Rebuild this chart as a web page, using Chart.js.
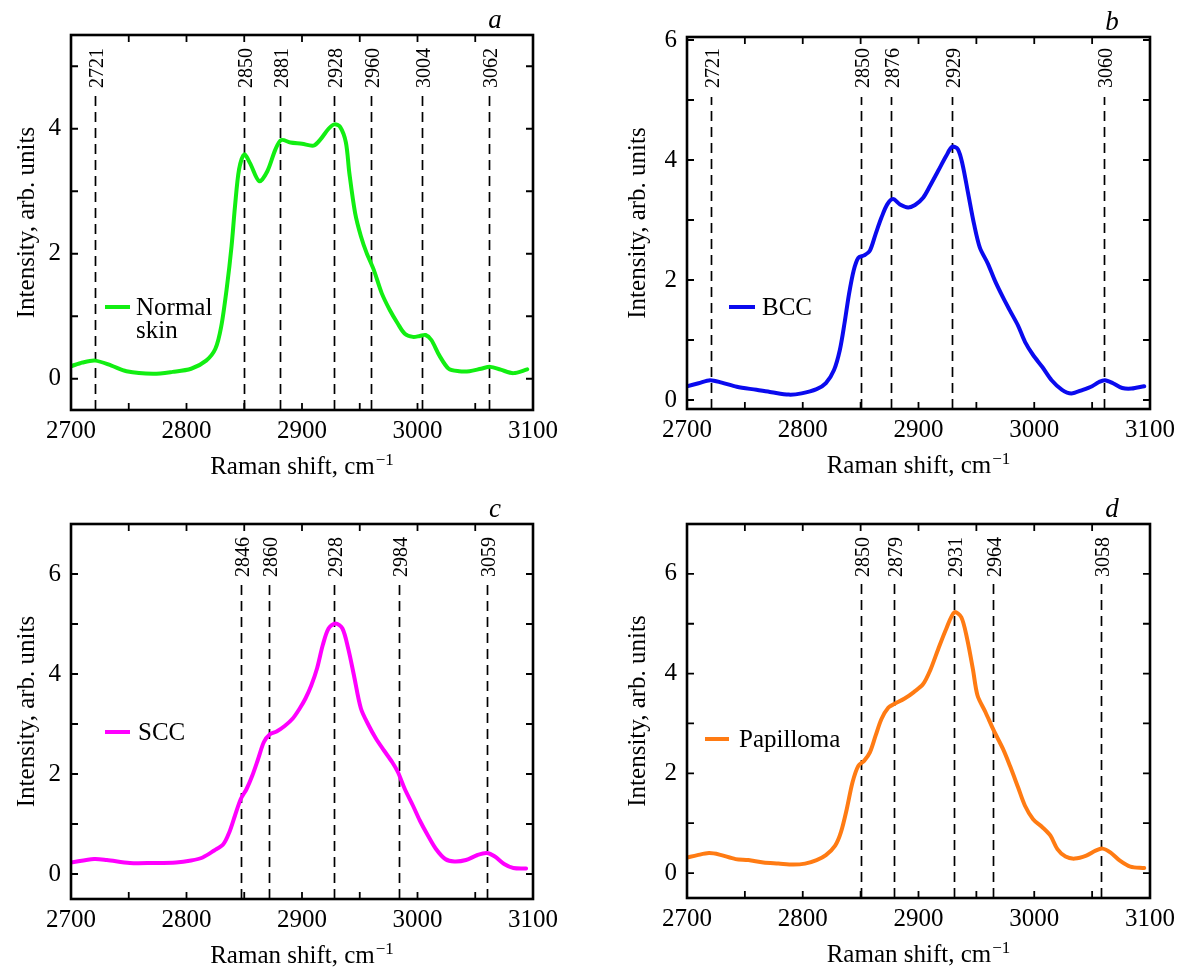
<!DOCTYPE html>
<html>
<head>
<meta charset="utf-8">
<script src="https://cdn.jsdelivr.net/npm/chart.js@4.4.1/dist/chart.umd.min.js"></script>
<style>
  html, body { margin: 0; padding: 0; background: #fff; }
  #wrap { position: relative; width: 1183px; height: 974px; background: #fff; }
  canvas { position: absolute; }
</style>
</head>
<body>
<div id="wrap">
  <canvas id="pa" width="591" height="487" style="left:0;top:0"></canvas>
  <canvas id="pb" width="592" height="487" style="left:591px;top:0"></canvas>
  <canvas id="pc" width="591" height="487" style="left:0;top:487px"></canvas>
  <canvas id="pd" width="592" height="487" style="left:591px;top:487px"></canvas>
</div>
<script>
// ---------------- DATA ----------------
const xTickValues = [2700, 2800, 2900, 3000, 3100];
const xMinorTickValues = [2700, 2750, 2800, 2850, 2900, 2950, 3000, 3050, 3100];

// a: Normal skin
const normalSkinShift = [2700, 2710, 2721, 2735, 2748, 2771, 2788, 2804, 2817, 2825, 2830, 2835, 2839, 2842, 2845.5, 2850, 2855, 2863, 2870, 2877, 2882, 2890, 2900, 2910, 2916, 2923, 2928, 2933, 2938, 2941, 2946, 2951, 2956, 2962, 2969, 2976, 2983, 2989, 2996, 3002, 3007, 3012, 3019, 3027, 3036, 3045, 3055, 3063, 3072, 3083, 3095];
const normalSkinIntensity = [0.20, 0.26, 0.29, 0.21, 0.12, 0.08, 0.11, 0.16, 0.29, 0.48, 0.83, 1.47, 2.12, 2.76, 3.35, 3.59, 3.45, 3.16, 3.32, 3.67, 3.82, 3.78, 3.76, 3.73, 3.83, 4.00, 4.07, 4.03, 3.78, 3.29, 2.65, 2.28, 2.01, 1.75, 1.37, 1.10, 0.88, 0.72, 0.67, 0.685, 0.70, 0.62, 0.37, 0.16, 0.12, 0.12, 0.16, 0.19, 0.145, 0.09, 0.15];
const normalSkinPeaks = [2721, 2850, 2881, 2928, 2960, 3004, 3062];
const normalSkinPeakLabels = ['2721', '2850', '2881', '2928', '2960', '3004', '3062'];
const normalSkinYTicks = [0, 2, 4];
const normalSkinYMinor = [0, 1, 2, 3, 4, 5];

// b: BCC
const bccShift = [2700, 2710, 2720, 2730, 2743, 2760, 2773, 2788, 2799, 2812, 2820, 2827, 2832, 2836, 2840, 2844, 2848, 2853, 2858, 2863, 2868, 2873, 2878, 2884, 2891, 2897, 2904, 2910, 2917, 2924, 2929, 2934, 2938, 2943, 2948, 2953, 2960, 2966, 2973, 2979, 2986, 2992, 2999, 3007, 3015, 3024, 3032, 3042, 3050, 3056, 3061, 3068, 3076, 3084, 3095];
const bccIntensity = [0.23, 0.28, 0.33, 0.29, 0.22, 0.17, 0.13, 0.09, 0.11, 0.18, 0.28, 0.50, 0.83, 1.27, 1.77, 2.16, 2.37, 2.41, 2.49, 2.77, 3.04, 3.26, 3.35, 3.26, 3.21, 3.25, 3.37, 3.57, 3.82, 4.07, 4.22, 4.18, 3.93, 3.43, 2.93, 2.54, 2.27, 1.99, 1.71, 1.49, 1.24, 0.97, 0.75, 0.55, 0.33, 0.17, 0.11, 0.17, 0.23, 0.30, 0.33, 0.28, 0.20, 0.19, 0.23];
const bccPeaks = [2721, 2850, 2876, 2929, 3060];
const bccPeakLabels = ['2721', '2850', '2876', '2929', '3060'];
const bccYTicks = [0, 2, 4, 6];
const bccYMinor = [0, 1, 2, 3, 4, 5, 6];

// c: SCC
const sccShift = [2700, 2720, 2731, 2751, 2771, 2791, 2804, 2814, 2824, 2832, 2837, 2842, 2847, 2852, 2857, 2862, 2867, 2872, 2878, 2885, 2892, 2898, 2903, 2908, 2913, 2918, 2923, 2929, 2935, 2940, 2945, 2951, 2958, 2964, 2971, 2978, 2983, 2989, 2996, 3002, 3009, 3016, 3024, 3032, 3042, 3052, 3060, 3067, 3075, 3083, 3094];
const sccIntensity = [0.23, 0.30, 0.28, 0.22, 0.22, 0.23, 0.27, 0.33, 0.47, 0.60, 0.83, 1.17, 1.50, 1.70, 1.97, 2.30, 2.64, 2.79, 2.85, 2.96, 3.11, 3.31, 3.51, 3.77, 4.11, 4.58, 4.91, 5.01, 4.91, 4.51, 3.97, 3.31, 2.96, 2.71, 2.47, 2.24, 2.04, 1.70, 1.37, 1.07, 0.77, 0.50, 0.30, 0.25, 0.28, 0.38, 0.42, 0.35, 0.20, 0.12, 0.11];
const sccPeaks = [2847, 2871, 2928, 2984, 3060];
const sccPeakLabels = ['2846', '2860', '2928', '2984', '3059'];
const sccYTicks = [0, 2, 4, 6];
const sccYMinor = [0, 1, 2, 3, 4, 5, 6];

// d: Papilloma
const papillomaShift = [2700, 2709, 2719, 2728, 2742, 2753, 2766, 2779, 2792, 2802, 2812, 2820, 2828, 2833, 2838, 2843, 2848, 2853, 2858, 2863, 2868, 2874, 2879, 2888, 2896, 2904, 2910, 2917, 2924, 2931, 2937, 2942, 2947, 2951, 2958, 2965, 2973, 2979, 2986, 2992, 2999, 3007, 3014, 3020, 3027, 3035, 3045, 3053, 3059, 3066, 3074, 3083, 3095];
const papillomaIntensity = [0.31, 0.36, 0.40, 0.37, 0.28, 0.26, 0.21, 0.19, 0.17, 0.19, 0.26, 0.36, 0.55, 0.82, 1.28, 1.82, 2.15, 2.25, 2.42, 2.76, 3.09, 3.32, 3.39, 3.50, 3.63, 3.79, 4.06, 4.49, 4.90, 5.23, 5.13, 4.70, 4.09, 3.56, 3.22, 2.86, 2.49, 2.15, 1.72, 1.35, 1.08, 0.92, 0.75, 0.48, 0.33, 0.29, 0.35, 0.45, 0.49, 0.41, 0.25, 0.13, 0.10];
const papillomaPeaks = [2850, 2879, 2931, 2964, 3058];
const papillomaPeakLabels = ['2850', '2879', '2931', '2964', '3058'];
const papillomaYTicks = [0, 2, 4, 6];
const papillomaYMinor = [0, 1, 2, 3, 4, 5, 6];

const xTitle = 'Raman shift, cm';
const xTitleSup = '\u22121';
const yTitle = 'Intensity, arb. units';

// ---------------- RENDERING ----------------
const SERIF = '"Liberation Serif", "Times New Roman", serif';
const X_AXIS_H = 70;

const panelPlugin = {
  id: 'panel',
  beforeDatasetsDraw(chart) {
    const p = chart.options.plugins.panel;
    const { ctx, chartArea: ca, scales: { x } } = chart;
    ctx.save();
    ctx.strokeStyle = '#000';
    ctx.lineWidth = 1.7;
    ctx.setLineDash([10, 6]);
    p.peaks.forEach(v => {
      const px = Math.round(x.getPixelForValue(v)) + 0.5;
      ctx.beginPath();
      ctx.moveTo(px, ca.bottom);
      ctx.lineTo(px, ca.top + p.lineTop);
      ctx.stroke();
    });
    ctx.restore();
  },
  afterDraw(chart) {
    const p = chart.options.plugins.panel;
    const { ctx, chartArea: ca, scales: { x, y } } = chart;
    ctx.save();
    ctx.fillStyle = '#000';
    ctx.strokeStyle = '#000';
    // peak labels
    ctx.font = '20px ' + SERIF;
    p.peakLabels.forEach((t, i) => {
      const px = Math.round(x.getPixelForValue(p.peaks[i])) + 0.5;
      ctx.save();
      ctx.translate(px, ca.top + p.labelEnd);
      ctx.rotate(-Math.PI / 2);
      ctx.textAlign = 'left';
      ctx.textBaseline = 'alphabetic';
      ctx.fillText(t, 0, 7);
      ctx.restore();
    });
    // minor ticks
    ctx.lineWidth = 1.8;
    const TL = 7;
    xMinorTickValues.forEach(v => {
      const px = x.getPixelForValue(v);
      ctx.beginPath();
      ctx.moveTo(px, ca.bottom); ctx.lineTo(px, ca.bottom - TL);
      ctx.moveTo(px, ca.top); ctx.lineTo(px, ca.top + TL);
      ctx.stroke();
    });
    p.yMinor.forEach(v => {
      const py = y.getPixelForValue(v);
      ctx.beginPath();
      ctx.moveTo(ca.left, py); ctx.lineTo(ca.left + TL, py);
      ctx.moveTo(ca.right, py); ctx.lineTo(ca.right - TL, py);
      ctx.stroke();
    });
    // frame
    ctx.lineWidth = 2.6;
    ctx.strokeRect(ca.left, ca.top, ca.right - ca.left, ca.bottom - ca.top);
    // legend
    ctx.strokeStyle = p.color;
    ctx.lineWidth = 4;
    ctx.beginPath();
    ctx.moveTo(ca.left + p.legend.x0, ca.top + p.legend.y);
    ctx.lineTo(ca.left + p.legend.x1, ca.top + p.legend.y);
    ctx.stroke();
    ctx.font = '25px ' + SERIF;
    ctx.textAlign = 'left';
    ctx.textBaseline = 'alphabetic';
    p.legend.lines.forEach((t, i) => {
      ctx.fillText(t, ca.left + p.legend.tx, ca.top + p.legend.y + 8 + i * 23);
    });
    // x title with superscript
    const cx = (ca.left + ca.right) / 2;
    ctx.font = '25px ' + SERIF;
    const w1 = ctx.measureText(xTitle).width;
    ctx.font = '17px ' + SERIF;
    const w2 = ctx.measureText(xTitleSup).width;
    const start = cx - (w1 + w2 + 1) / 2;
    const base = ca.bottom + 64;
    ctx.font = '25px ' + SERIF;
    ctx.fillText(xTitle, start, base);
    ctx.font = '17px ' + SERIF;
    ctx.fillText(xTitleSup, start + w1 + 1, base - 9);
    // y title
    ctx.save();
    ctx.translate(ca.left + p.yTitleOff, (ca.top + ca.bottom) / 2);
    ctx.rotate(-Math.PI / 2);
    ctx.font = '25px ' + SERIF;
    ctx.textAlign = 'center';
    ctx.fillText(yTitle, 0, 0);
    ctx.restore();
    // panel letter
    ctx.font = 'italic 27px ' + SERIF;
    ctx.textAlign = 'center';
    ctx.fillText(p.letter, ca.right - 38, ca.top - 7);
    ctx.restore();
  }
};

function makePanel(id, cfg) {
  const canvas = document.getElementById(id);
  const W = canvas.width, H = canvas.height, A = cfg.area;
  const tickFont = { family: SERIF, size: 25 };
  new Chart(canvas, {
    type: 'line',
    data: {
      datasets: [{
        data: cfg.xs.map((v, i) => ({ x: v, y: cfg.ys[i] })),
        borderColor: cfg.color,
        borderWidth: 4,
        pointRadius: 0,
        fill: false,
        tension: 0.3,
        borderJoinStyle: 'round',
        borderCapStyle: 'round'
      }]
    },
    options: {
      responsive: false,
      animation: false,
      devicePixelRatio: 1,
      events: [],
      layout: { padding: { left: 0, top: A.top, right: W - A.right, bottom: H - A.bottom - X_AXIS_H } },
      plugins: { legend: { display: false }, tooltip: { enabled: false }, panel: cfg },
      scales: {
        x: {
          type: 'linear', min: 2700, max: 3100,
          grid: { display: false, drawTicks: false }, border: { display: false },
          ticks: { font: tickFont, color: '#000', padding: 6, maxRotation: 0, autoSkip: false,
                   callback: v => String(v) },
          afterBuildTicks: s => { s.ticks = xTickValues.map(v => ({ value: v })); },
          afterFit: s => { s.height = X_AXIS_H; }
        },
        y: {
          type: 'linear', min: cfg.ymin, max: cfg.ymax,
          grid: { display: false, drawTicks: false }, border: { display: false },
          ticks: { font: tickFont, color: '#000', padding: 10, autoSkip: false,
                   callback: v => String(v) },
          afterBuildTicks: s => { s.ticks = cfg.yTicks.map(v => ({ value: v })); },
          afterFit: s => { s.width = A.left; }
        }
      }
    },
    plugins: [panelPlugin]
  });
}

makePanel('pa', {
  xs: normalSkinShift, ys: normalSkinIntensity, color: '#12ee12',
  ymin: -0.5, ymax: 5.5, yTicks: normalSkinYTicks, yMinor: normalSkinYMinor,
  peaks: normalSkinPeaks, peakLabels: normalSkinPeakLabels,
  area: { left: 71, top: 35, right: 533, bottom: 410 },
  lineTop: 61, labelEnd: 53, yTitleOff: -37, letter: 'a',
  legend: { x0: 34, x1: 59, y: 272, tx: 65, lines: ['Normal', 'skin'] }
});
makePanel('pb', {
  xs: bccShift, ys: bccIntensity, color: '#0a0aee',
  ymin: -0.15, ymax: 6.05, yTicks: bccYTicks, yMinor: bccYMinor,
  peaks: bccPeaks, peakLabels: bccPeakLabels,
  area: { left: 96, top: 37, right: 559, bottom: 409 },
  lineTop: 60, labelEnd: 51, yTitleOff: -42, letter: 'b',
  legend: { x0: 42, x1: 68, y: 270, tx: 75, lines: ['BCC'] }
});
makePanel('pc', {
  xs: sccShift, ys: sccIntensity, color: '#ff00ff',
  ymin: -0.5, ymax: 7, yTicks: sccYTicks, yMinor: sccYMinor,
  peaks: sccPeaks, peakLabels: sccPeakLabels,
  area: { left: 71, top: 37, right: 533, bottom: 412 },
  lineTop: 55, labelEnd: 53, yTitleOff: -37, letter: 'c',
  legend: { x0: 34, x1: 59, y: 208, tx: 67, lines: ['SCC'] }
});
makePanel('pd', {
  xs: papillomaShift, ys: papillomaIntensity, color: '#ff7b13',
  ymin: -0.5, ymax: 7, yTicks: papillomaYTicks, yMinor: papillomaYMinor,
  peaks: papillomaPeaks, peakLabels: papillomaPeakLabels,
  area: { left: 96, top: 37, right: 559, bottom: 411 },
  lineTop: 56, labelEnd: 53, yTitleOff: -42, letter: 'd',
  legend: { x0: 18, x1: 42, y: 215, tx: 52, lines: ['Papilloma'] }
});
</script>
</body>
</html>
